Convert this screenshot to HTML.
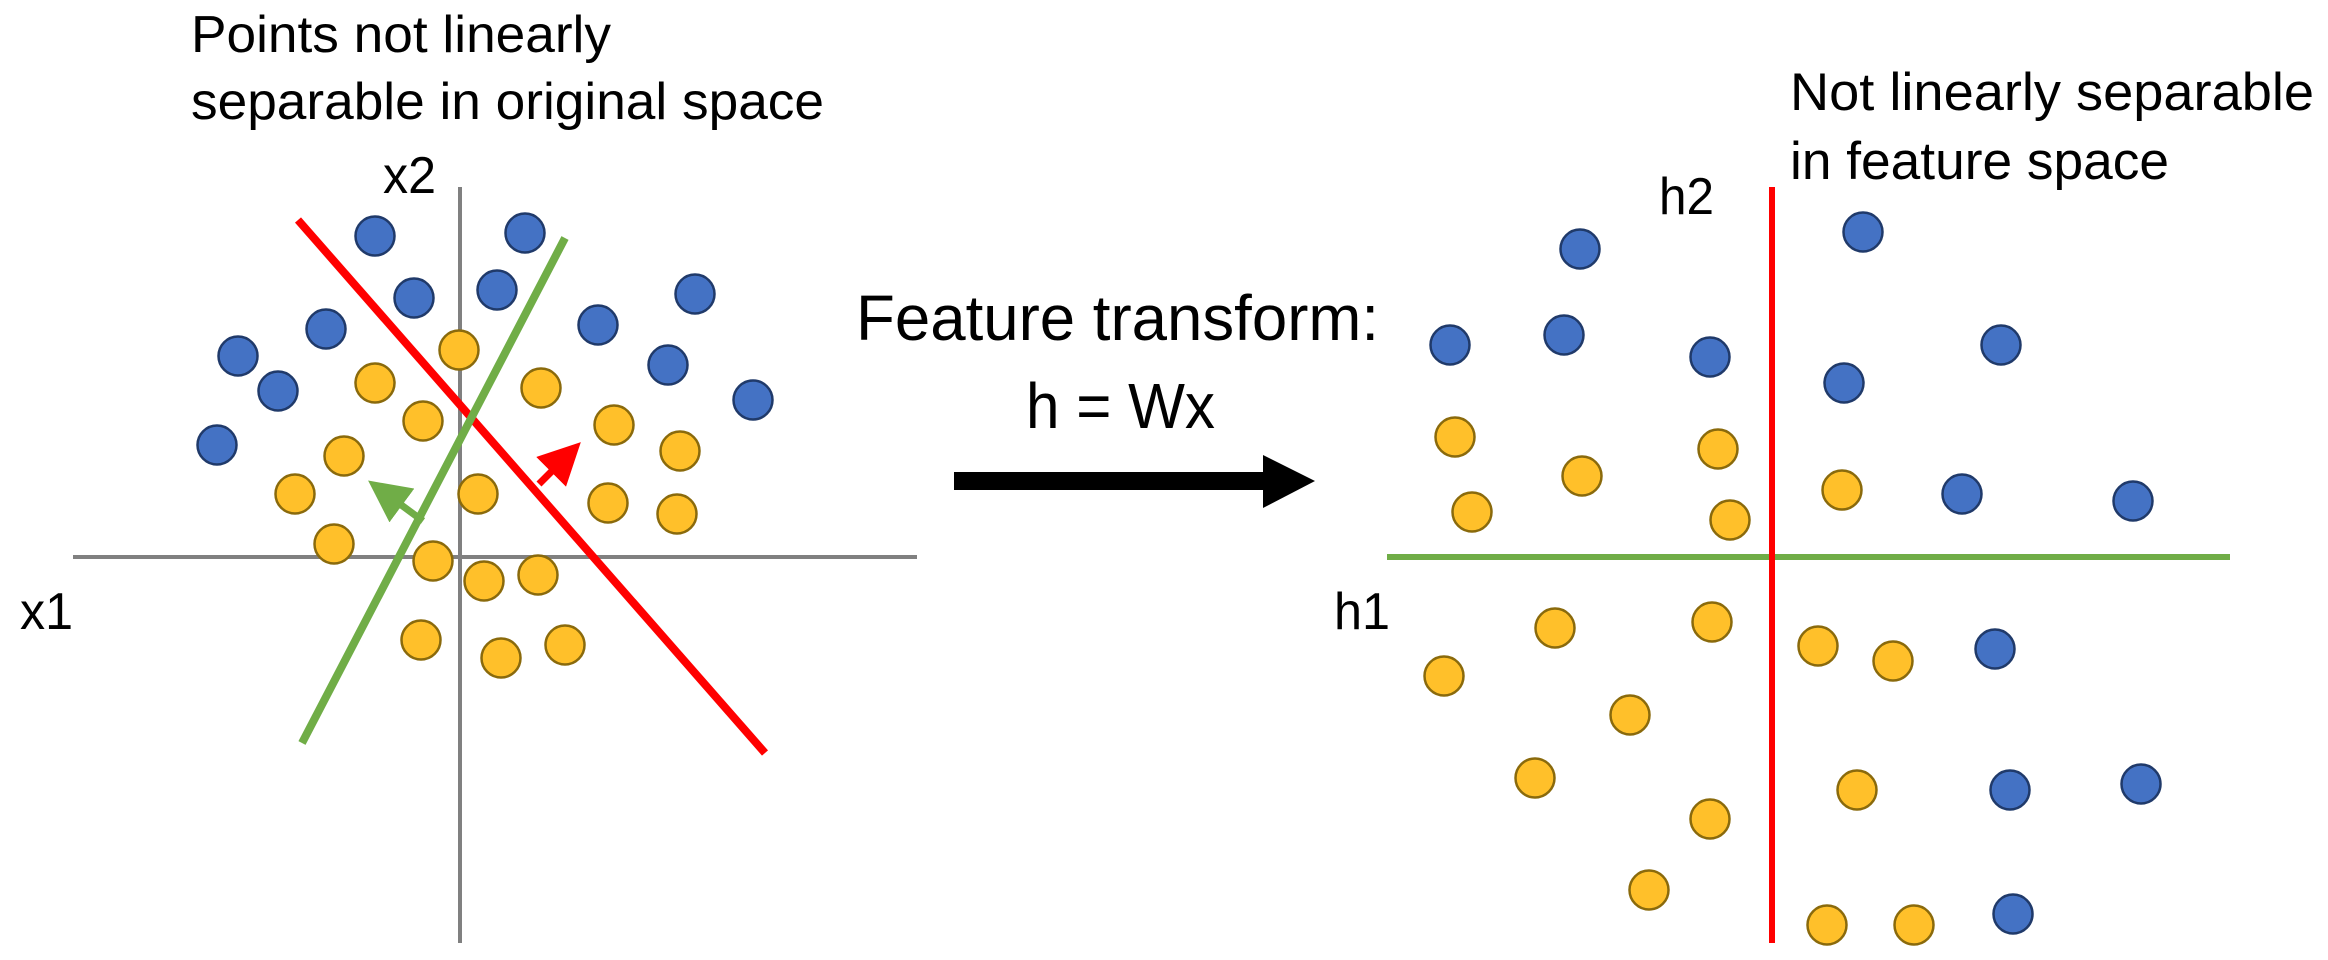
<!DOCTYPE html>
<html><head><meta charset="utf-8"><style>
html,body{margin:0;padding:0;background:#fff;}
svg{display:block;font-family:"Liberation Sans",Carlito,sans-serif;}
</style></head><body>
<svg id="fig" width="2328" height="960" viewBox="0 0 2328 960">
<defs>
<marker id="ar" markerWidth="6" markerHeight="6" refX="3" refY="3" orient="auto" markerUnits="strokeWidth"><path d="M0,0 L6,3 L0,6 z" fill="#ff0000"/></marker>
<marker id="ag" markerWidth="6" markerHeight="6" refX="3" refY="3" orient="auto" markerUnits="strokeWidth"><path d="M0,0 L6,3 L0,6 z" fill="#70ad47"/></marker>
</defs>
<g font-size="52" fill="#000">
<text x="191" y="52" textLength="420" lengthAdjust="spacingAndGlyphs">Points not linearly</text>
<text x="191" y="119" textLength="633" lengthAdjust="spacingAndGlyphs">separable in original space</text>
</g>
<text x="383" y="193" font-size="52" textLength="53" lengthAdjust="spacingAndGlyphs">x2</text>
<text x="20" y="629" font-size="52" textLength="53" lengthAdjust="spacingAndGlyphs">x1</text>
<g font-size="53" fill="#000">
<text x="1790" y="110" textLength="524" lengthAdjust="spacingAndGlyphs">Not linearly separable</text>
<text x="1790" y="179" textLength="379" lengthAdjust="spacingAndGlyphs">in feature space</text>
</g>
<text x="1659" y="214" font-size="52" textLength="55" lengthAdjust="spacingAndGlyphs">h2</text>
<text x="1334" y="629" font-size="52" textLength="56" lengthAdjust="spacingAndGlyphs">h1</text>
<text x="856" y="340" font-size="64" textLength="523" lengthAdjust="spacingAndGlyphs">Feature transform:</text>
<text x="1026" y="428" font-size="64" textLength="189" lengthAdjust="spacingAndGlyphs">h = Wx</text>
<g>
<rect x="954" y="472" width="312" height="18" fill="#000"/>
<polygon points="1263,455 1315,481 1263,508" fill="#000"/>
</g>
<g id="left">
<line x1="73" y1="557" x2="917" y2="557" stroke="#808080" stroke-width="4"/>
<line x1="460" y1="187" x2="460" y2="943" stroke="#808080" stroke-width="4"/>
</g>
<g id="right"></g>
</svg>
<script>
// Original-space data (units relative to origin, 1 unit = 10px)
const leftBlueX = [-8.5,6.5,-4.6,3.7,-13.4,13.8,23.5,-22.2,-18.2,20.8,29.3,-24.3];
const leftBlueY = [32.1,32.4,25.9,26.7,22.8,23.2,26.3,20.1,16.6,19.2,15.7,11.2];
const leftYellowX = [-0.1,-8.5,8.1,-3.7,15.4,-11.6,22.0,-16.5,1.8,14.8,21.7,-12.6,-2.7,2.4,7.8,-3.9,4.1,10.5];
const leftYellowY = [20.7,17.4,16.9,13.6,13.2,10.1,10.6,6.3,6.3,5.4,4.3,1.3,-0.4,-2.4,-1.8,-8.3,-10.1,-8.8];
// Feature-space data
const rightBlueX = [-19.2,-32.2,-20.8,-6.2,9.1,22.9,7.2,19.0,36.1,22.3,23.8,36.9,24.1];
const rightBlueY = [30.8,21.2,22.2,20.0,32.5,21.2,17.4,6.3,5.6,-9.2,-23.3,-22.7,-35.7];
const rightYellowX = [-31.7,-5.4,-19.0,-30.0,-4.2,7.0,-21.7,-6.0,-32.8,4.6,12.1,-14.2,-23.7,-6.2,8.5,-12.3,5.5,14.2];
const rightYellowY = [12.0,10.8,8.1,4.5,3.7,6.7,-7.1,-6.5,-11.9,-8.9,-10.4,-15.8,-22.1,-26.2,-23.3,-33.3,-36.8,-36.8];
// Separator lines in data units [x1,y1,x2,y2]
const leftRedLine = [-16.2,33.7,30.5,-19.6];
const leftGreenLine = [10.5,31.9,-15.8,-18.6];
const leftRedNormal = [7.9,7.3,10.6,10.0];
const leftGreenNormal = [-3.7,3.6,-7.5,6.4];
const rightRedLine = [0,37.0,0,-38.6];
const rightGreenLine = [-38.5,0,45.8,0];

const NS = 'http://www.w3.org/2000/svg';
const K = 10;
const lx = v => 460 + v*K, ly = v => 557 - v*K;
const rx = v => 1772 + v*K, ry = v => 557 - v*K;

function mk(tag, attrs, parent){
  const el = document.createElementNS(NS, tag);
  for (const k in attrs) el.setAttribute(k, attrs[k]);
  parent.appendChild(el);
  return el;
}
function line(g, d, sx, sy, color, w, name, marker){
  const el = mk('line', {x1:sx(d[0]), y1:sy(d[1]), x2:sx(d[2]), y2:sy(d[3]), stroke:color, 'stroke-width':w}, g);
  if (marker) el.setAttribute('marker-end', marker);
  
  
}
function dots(g, xs, ys, sx, sy, fill, stroke, name){
  for (let i=0;i<xs.length;i++){
    const c = mk('circle', {cx:sx(xs[i]), cy:sy(ys[i]), r:19.5, fill:fill, stroke:stroke, 'stroke-width':2.5}, g);
    
    
  }
}
const L = document.getElementById('left'), R = document.getElementById('right');
line(L, leftRedLine, lx, ly, '#ff0000', 8, 'red-separator');
line(L, leftGreenLine, lx, ly, '#70ad47', 8, 'green-separator');
line(L, leftRedNormal, lx, ly, '#ff0000', 7, 'red-normal-arrow', 'url(#ar)');
line(L, leftGreenNormal, lx, ly, '#70ad47', 7, 'green-normal-arrow', 'url(#ag)');
dots(L, leftYellowX, leftYellowY, lx, ly, '#ffc02a', '#8a6a0c', 'yellow-point');
dots(L, leftBlueX, leftBlueY, lx, ly, '#4472c4', '#203a6a', 'blue-point');
line(R, rightGreenLine, rx, ry, '#70ad47', 6, 'h1-axis-green-separator');
line(R, rightRedLine, rx, ry, '#ff0000', 6, 'h2-axis-red-separator');
dots(R, rightYellowX, rightYellowY, rx, ry, '#ffc02a', '#8a6a0c', 'yellow-point');
dots(R, rightBlueX, rightBlueY, rx, ry, '#4472c4', '#203a6a', 'blue-point');
</script>
</body></html>
